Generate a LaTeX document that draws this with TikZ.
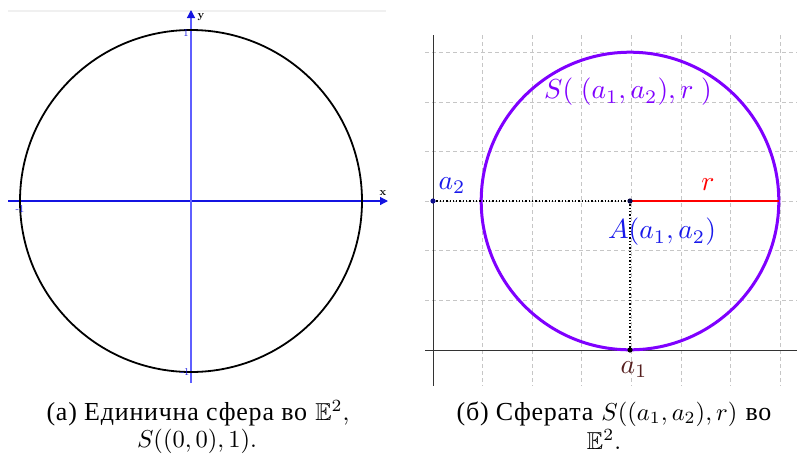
\documentclass[tikz,border=0pt]{standalone}
\usepackage{fontspec}
\usepackage{amssymb}
\newfontfamily\cyr[Scale=1.06,LetterSpace=3]{Liberation Serif}
\usetikzlibrary{arrows.meta}
\definecolor{violetc}{RGB}{127,0,255}
\definecolor{bluec}{RGB}{25,25,235}
\definecolor{axish}{RGB}{20,20,225}
\definecolor{axisv}{RGB}{95,95,255}
\definecolor{brownc}{RGB}{85,30,30}
\tikzset{
  gridl/.style={gray!45, dashed, dash pattern=on 4pt off 3pt, line width=0.7pt},
  axisr/.style={black!80, line width=0.9pt},
  ticklab/.style={text=axish, font=\normalsize, scale=1.05, inner sep=0pt},
  axlab/.style={font=\bfseries, scale=1.1, inner sep=0pt},
  lab/.style={font=\normalsize, scale=2.75, inner sep=0pt},
  captxt/.style={font=\normalsize, scale=2.45, inner sep=0pt, anchor=base},
  dotp/.style={radius=2.6pt}
}
\begin{document}
\begin{tikzpicture}[x=1pt,y=-1pt]
\useasboundingbox (0,0) rectangle (797,459);
% ---------- left panel ----------
\draw[gray!12, line width=1.2pt] (8,11) -- (386,11);
\coordinate (O) at (191,201);
\coordinate (xl) at (8,201);
\coordinate (xr) at (388,201);
\coordinate (yb) at (191,383);
\coordinate (yt) at (191,10);
\draw[axish, line width=1.2pt, -{Triangle[length=8pt,width=8pt]}] (xl) -- (xr);
\draw[axisv, line width=1.2pt, -{Triangle[length=8pt,width=8pt,fill=axish,color=axish]}] (yb) -- (yt);
\draw[black, line width=1.8pt] (O) circle[radius=171];
\node[axlab] (ylab) at (201,17) {y};
\node[axlab] (xlab) at (383,193) {x};
\node[ticklab] (t1) at (186,33) {1};
\node[ticklab] (tm1) at (20,209) {-1};
\node[ticklab] (tm2) at (185,372) {-1};
% ---------- right panel ----------
\foreach \i in {1,...,7} \draw[gridl] ({433+\i*49.6},35) -- ({433+\i*49.6},386);
\foreach \j in {1,...,6} \draw[gridl] (425,{350-\j*49.6}) -- (797,{350-\j*49.6});
\draw[axisr] (433,35) -- (433,386);
\draw[axisr] (425,350) -- (797,350);
\coordinate (A) at (630,201);
\coordinate (P2) at (433,201);
\coordinate (P1) at (630,350);
\coordinate (R) at (779,201);
\draw[violetc, line width=3pt] (A) circle[radius=148.8];
\draw[black, dotted, line width=1.3pt] (P2) -- (A);
\draw[black, dotted, line width=1.3pt] (A) -- (P1);
\draw[red, line width=1.6pt] (A) -- (R);
\fill[bluec!60!black] (P2) circle[dotp];
\fill[bluec!30!black] (A) circle[dotp];
\fill[black] (P1) circle[dotp];
\node[lab, text=violetc] (Slab) at (628,92) {$S(\;(a_1,a_2),r\;)$};
\node[lab, text=bluec] (a2lab) at (452,186) {$a_2$};
\node[lab, text=red] (rlab) at (708,185) {$r$};
\node[lab, text=bluec] (Alab) at (662,232) {$A(a_1,a_2)$};
\node[lab, text=brownc] (a1lab) at (634,370) {$a_1$};
% ---------- captions ----------
\node[captxt] (c1) at (198,420) {{\cyr (а) Единична сфера во} $\mathbb{E}^2$,};
\node[captxt] (c2) at (197,447) {$S((0,0),1)$.};
\node[captxt] (c3) at (614,420) {{\cyr (б) Сферата} $S((a_1,a_2),r)$ {\cyr во}};
\node[captxt] (c4) at (604,449) {$\mathbb{E}^2$.};
\end{tikzpicture}
\end{document}
